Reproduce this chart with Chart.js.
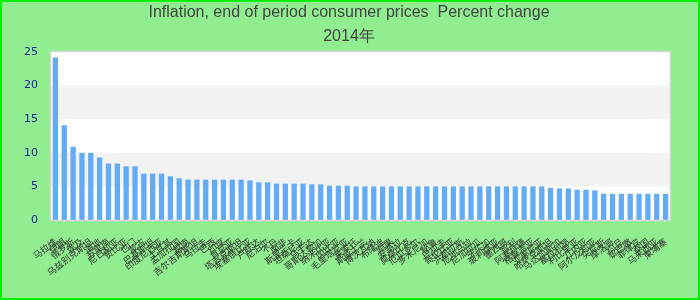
<!DOCTYPE html>
<html>
<head>
<meta charset="utf-8">
<script src="https://cdn.jsdelivr.net/npm/chart.js@4"></script>
<style>
html,body{margin:0;padding:0;background:#90EE90;}
#wrap{width:700px;height:300px;position:relative;}
canvas{display:block;}
</style>
</head>
<body>
<div id="wrap"><canvas id="c" width="700" height="300"></canvas></div>
<script>
const titleLines = ['Inflation, end of period consumer prices  Percent change', '2014年'];
const categories = ['马拉维','伊朗','俄罗斯','埃及','乌兹别克斯坦','海地','苏里南','尼日利亚','赞比亚','也门',
'蒙古','巴基斯坦','印度尼西亚','土耳其','孟加拉国','越南','吉尔吉斯斯坦','乌拉圭','巴西','印度',
'肯尼亚','塔吉克斯坦','埃塞俄比亚','卢旺达','尼泊尔','不丹','南非','斯里兰卡','坦桑尼亚','乌干达',
'哥斯达黎加','纳米比亚','冈比亚','毛里塔尼亚','莱索托','斯威士兰','博茨瓦纳','布隆迪','刚果','安哥拉',
'莫桑比克','厄瓜多尔','多米尼加','秘鲁','巴拉圭','哥伦比亚','洪都拉斯','危地马拉','尼加拉瓜','牙买加',
'玻利维亚','墨西哥','智利','阿塞拜疆','格鲁吉亚','亚美尼亚','哈萨克斯坦','马达加斯加','塞拉利昂','利比里亚',
'几内亚','阿尔及利亚','突尼斯','摩洛哥','约旦','黎巴嫩','菲律宾','泰国','马来西亚','柬埔寨'];
const inflation = [24.2,14.1,10.9,10.0,10.0,9.3,8.4,8.4,8.0,8.0,
6.9,6.9,6.9,6.5,6.2,6.0,6.0,6.0,6.0,6.0,
6.0,6.0,5.9,5.6,5.6,5.4,5.4,5.4,5.4,5.3,
5.3,5.1,5.1,5.1,5.0,5.0,5.0,5.0,5.0,5.0,
5.0,5.0,5.0,5.0,5.0,5.0,5.0,5.0,5.0,5.0,
5.0,5.0,5.0,5.0,5.0,5.0,4.8,4.7,4.7,4.5,
4.5,4.4,3.9,3.9,3.9,3.9,3.9,3.9,3.9,3.9];
const yTicks = [0,5,10,15,20,25];

const bgPlugin = {
  id: 'bg',
  beforeDatasetsDraw(chart) {
    const {ctx, chartArea: a, scales: {y}} = chart;
    ctx.save();
    ctx.fillStyle = '#ffffff';
    ctx.fillRect(a.left, a.top, a.right - a.left, a.bottom - a.top);
    ctx.fillStyle = '#f2f2f2';
    for (let i = 1; i < yTicks.length - 1; i += 2) {
      const t = y.getPixelForValue(yTicks[i + 1]);
      const b = y.getPixelForValue(yTicks[i]);
      ctx.fillRect(a.left, t, a.right - a.left, b - t);
    }
    ctx.restore();
  },
  afterDatasetsDraw(chart) {
    const {ctx, chartArea: a} = chart;
    ctx.save();
    ctx.strokeStyle = '#d4d4d4';
    ctx.lineWidth = 1.5;
    ctx.strokeRect(a.left - 0.5, a.top - 0.5, a.right - a.left + 1, a.bottom - a.top + 1);
    ctx.restore();
  },
  afterDraw(chart) {
    const {ctx, width, height} = chart;
    ctx.save();
    ctx.fillStyle = '#444444';
    ctx.font = '16px "Liberation Sans", Arial, sans-serif';
    ctx.textAlign = 'center';
    ctx.textBaseline = 'middle';
    ctx.fillText(titleLines[0], 349, 13);
    ctx.fillText(titleLines[1], 349, 37);
    ctx.strokeStyle = '#00ee00';
    ctx.lineWidth = 2;
    ctx.strokeRect(1, 1, width - 2, height - 2);
    ctx.restore();
  }
};

new Chart(document.getElementById('c'), {
  type: 'bar',
  data: {
    labels: categories,
    datasets: [{
      data: inflation,
      backgroundColor: '#63abf5',
      borderWidth: 0,
      barPercentage: 0.6,
      categoryPercentage: 1.0
    }]
  },
  options: {
    responsive: false,
    animation: false,
    devicePixelRatio: 1,
    layout: {padding: {top: 52, right: 30, left: 0, bottom: 0}},
    plugins: {legend: {display: false}, title: {display: false}, tooltip: {enabled: false}},
    scales: {
      x: {
        grid: {display: false},
        border: {display: false},
        afterFit(s) { s.height = 80; },
        ticks: {
          autoSkip: false,
          minRotation: 38,
          maxRotation: 38,
          padding: 8,
          color: '#333333',
          font: {family: '"Noto Sans CJK SC"', size: 9}
        }
      },
      y: {
        min: 0,
        max: 25,
        grid: {display: false},
        border: {display: false},
        afterFit(s) { s.width = 51; },
        afterBuildTicks(s) { s.ticks = yTicks.map(v => ({value: v})); },
        ticks: {
          padding: 5,
          color: '#22229a',
          font: {family: '"DejaVu Sans"', size: 11}
        }
      }
    }
  },
  plugins: [bgPlugin]
});
</script>
</body>
</html>
